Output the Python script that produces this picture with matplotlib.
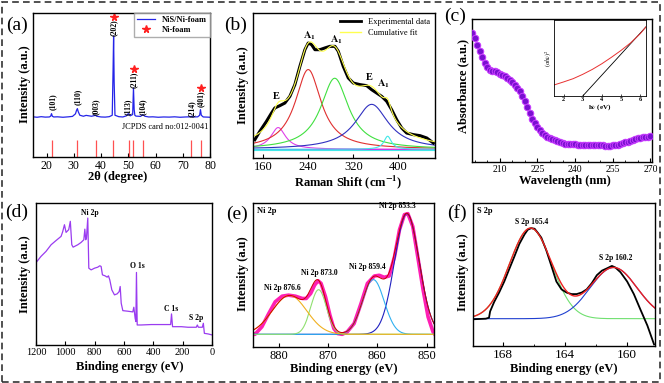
import numpy as np
import matplotlib
matplotlib.use('Agg')
import matplotlib.pyplot as plt
from matplotlib.lines import Line2D
from matplotlib.patches import Rectangle
from matplotlib.ticker import MultipleLocator

plt.rcParams['font.family'] = 'Liberation Serif'
plt.rcParams['mathtext.fontset'] = 'stix'

W, H = 664, 383

# ---- (a) XRD ----
xrd_x = [15.0, 16.5, 18.0, 19.5, 21.0, 21.5, 21.8, 22.1, 22.6, 24.0, 26.0, 28.0, 29.5,
         30.6, 31.0, 31.3, 31.6, 32.2, 33.5, 34.5, 35.5, 36.5, 37.6, 38.0, 38.4, 40.0,
         41.5, 43.0, 44.1, 44.4, 44.6, 44.8, 45.1, 46.5, 48.0, 49.3, 50.0, 50.7, 51.6,
         51.9, 52.15, 52.4, 52.8, 54.5, 55.3, 56.1, 57.5, 59.0, 61.0, 63.0, 65.0, 67.0,
         69.0, 71.0, 72.8, 73.3, 73.8, 75.5, 76.2, 76.5, 76.8, 77.5, 79.0, 80.0]
xrd_y = [27.9, 27.6, 28.0, 27.7, 27.8, 28.4, 30.1, 28.3, 27.8, 27.9, 27.6, 27.9, 28.2,
         30.0, 32.5, 33.6, 31.5, 29.0, 28.3, 28.9, 28.6, 28.3, 28.8, 28.9, 28.3, 27.8,
         27.7, 28.0, 29.0, 60.0, 84.0, 52.0, 29.0, 28.0, 27.8, 28.6, 30.1, 28.6, 29.5,
         47.9, 33.0, 29.0, 28.4, 28.2, 29.4, 28.3, 27.8, 27.9, 27.6, 27.8, 27.7, 27.9,
         27.6, 27.8, 27.9, 28.3, 27.8, 27.9, 29.0, 32.9, 29.0, 27.8, 27.7, 27.6]
ref_x = [21.9, 31.3, 38.0, 44.5, 50.4, 51.9, 55.3, 73.1, 76.8]
hkl_labels = ['(101)', '(110)', '(003)', '(202)', '(113)', '(211)', '(104)', '(214)', '(401)']
hkl_x = [22.1, 31.3, 38.1, 44.7, 49.8, 52.1, 55.5, 73.5, 76.6]
hkl_y = [38.2, 41.7, 35.2, 90.0, 34.7, 53.7, 34.7, 33.6, 40.5]
star_x = [44.7, 52.1, 76.6]
star_y = [97.0, 61.3, 48.1]

# ---- (b) Raman ----
raman_x = [145.2, 154.1, 165.9, 174.8, 180.7, 189.6, 198.5, 207.4, 216.3, 225.2, 234.1,
           240.0, 245.9, 251.9, 260.7, 269.6, 278.5, 287.4, 293.3, 302.2, 311.1, 320.0,
           331.9, 343.7, 352.6, 361.5, 370.4, 379.3, 388.1, 397.0, 405.9, 414.8, 426.7,
           438.5, 450.4, 462.2]
raman_y = [12.6, 18.4, 25.3, 31.0, 34.5, 36.1, 37.9, 42.5, 50.6, 63.2, 74.7, 79.3, 78.2,
           74.7, 74.7, 75.9, 77.0, 77.0, 73.6, 63.2, 55.2, 51.7, 50.6, 49.9, 47.1, 44.8,
           42.5, 39.1, 33.3, 26.4, 20.7, 17.2, 16.1, 15.4, 13.8, 10.3]
raman_base = 6.0
raman_centers = [186.7, 240.0, 287.0, 352.6, 381.0]
raman_heights = [15.0, 55.0, 49.0, 31.0, 9.0]
raman_hwhm = [16.0, 28.0, 30.0, 36.0, 8.0]
raman_colors = ['#e040e8', '#e03030', '#40e040', '#3030c0', '#40e8e8']
mode_labels = ['E', r'$\mathbf{A_1}$', r'$\mathbf{A_1}$', 'E', r'$\mathbf{A_1}$']
mode_x = [182.5, 241.8, 289.2, 348.4, 373.3]
mode_y = [42.5, 84.0, 81.5, 55.2, 51.3]

# ---- (c) UV-Vis ----
uv_nm = list(range(199, 271))
uv_abs = [90.0, 86.5, 82.0, 77.4, 73.2, 69.3, 66.5, 64.6, 63.8, 63.3, 62.6, 61.8, 60.9,
          59.9, 58.8, 57.6, 56.0, 54.1, 51.9, 49.4, 46.1, 42.4, 38.3, 34.0, 30.4, 27.0,
          24.3, 22.4, 20.6, 19.0, 17.8, 16.7, 15.9, 15.2, 14.5, 13.8, 13.3, 12.9, 12.7,
          12.5, 12.4, 12.3, 12.1, 11.9, 11.8, 11.7, 11.7, 11.7, 11.7, 11.7, 11.7, 11.6,
          11.6, 11.5, 11.5, 11.5, 11.6, 11.8, 12.1, 12.5, 13.1, 13.7, 14.3, 14.9, 15.5,
          16.0, 16.5, 16.9, 17.2, 17.4, 17.7, 17.9]
tauc_hv = [1.5, 2.0, 2.5, 3.0, 3.5, 4.0, 4.5, 5.0, 5.5, 6.0, 6.3]
tauc_y = [0.145, 0.185, 0.228, 0.285, 0.35, 0.425, 0.51, 0.60, 0.70, 0.82, 0.91]
tangent_hv = [3.0, 6.3]
tangent_y = [0.0, 0.91]

# ---- (d) XPS survey ----
survey_be = [1200, 1166, 1132, 1097, 1063, 1029, 1018, 1006, 995, 977, 966, 956, 947, 915,
             893, 874, 867, 861, 856, 847, 840, 824, 801, 779, 765, 756, 747, 729, 715,
             706, 697, 683, 665, 647, 633, 626, 619, 608, 574, 540, 533, 524, 519, 515,
             510, 483, 414, 346, 282, 276, 269, 209, 164, 107, 100, 93, 66, 59, 52, 27, 0]
survey_i = [58.0, 62.4, 65.9, 70.6, 73.6, 76.5, 79.8, 84.7, 79.3, 81.2, 87.1, 70.6, 68.9,
            70.6, 72.2, 74.1, 81.6, 74.1, 75.3, 89.4, 54.1, 52.9, 54.1, 54.8, 55.8, 55.3,
            49.4, 48.7, 47.8, 48.7, 45.9, 38.8, 35.3, 36.0, 37.6, 41.2, 29.4, 24.2, 23.8,
            23.3, 26.6, 18.8, 16.5, 51.1, 14.1, 14.1, 14.4, 14.4, 14.4, 21.9, 12.9, 12.9,
            12.5, 12.5, 14.1, 12.5, 12.5, 15.3, 8.2, 7.8, 7.1]
survey_labels = ['Ni 2p', 'O 1s', 'C 1s', 'S 2p']
survey_lx = [836, 510, 282, 107]
survey_ly = [93.0, 55.3, 25.4, 18.8]

# ---- (e) Ni 2p ----
ni_be = [885.1, 884.8, 883.4, 882.0, 880.7, 879.3, 878.0, 876.6, 875.2, 874.4, 873.5,
         872.7, 872.0, 871.4, 870.5, 869.6, 868.8, 868.0, 867.1, 866.1, 864.7, 863.3,
         862.0, 860.6, 859.6, 858.6, 857.6, 856.5, 855.5, 854.5, 853.8, 852.8, 851.8,
         850.7, 849.7, 848.7, 848.2]
ni_i = [8.8, 8.8, 14.0, 23.3, 31.4, 35.3, 36.0, 35.3, 33.7, 33.7, 37.2, 43.0, 46.0, 44.2,
        34.9, 22.1, 12.8, 9.3, 8.8, 10.5, 16.3, 30.2, 44.2, 49.3, 49.8, 48.4, 49.3, 62.8,
        81.4, 91.9, 92.6, 83.7, 62.8, 39.5, 20.9, 10.5, 8.1]
ni_base = 8.8
ni_centers = [854.0, 860.8, 871.9, 877.8]
ni_heights = [83.8, 38.0, 31.0, 27.0]
ni_sigmas = [2.5, 2.2, 1.6, 3.5]
ni_colors = ['#2020c0', '#30b0f0', '#90e070', '#f0b020']
ni_labels = ['Ni 2p 853.3', 'Ni 2p 859.4', 'Ni 2p 873.0', 'Ni 2p 876.6']
ni_lx = [855.9, 862.0, 871.8, 879.3]
ni_ly = [97.7, 55.8, 51.2, 40.7]

# ---- (f) S 2p ----
s_be = [169.88, 169.08, 168.87, 168.80, 168.54, 168.22, 167.89, 167.57, 167.24, 166.92,
        166.59, 166.38, 166.16, 165.94, 165.73, 165.51, 165.19, 164.86, 164.54, 164.21,
        163.89, 163.56, 163.24, 162.91, 162.59, 162.26, 161.94, 161.61, 161.29, 160.97,
        160.75, 160.42, 159.99, 159.56, 159.13, 158.69, 158.26]
s_i = [18.7, 19.1, 19.8, 24.2, 30.8, 37.4, 45.1, 53.8, 62.6, 71.4, 78.0, 81.3, 82.4, 82.0,
       79.1, 75.8, 67.0, 56.0, 45.1, 39.6, 37.4, 36.3, 36.3, 37.4, 39.6, 44.0, 49.5, 52.7,
       54.3, 56.0, 54.9, 51.6, 45.1, 36.3, 25.3, 14.3, 1.1]
s_base = 19.1
s_centers = [166.2, 160.86]
s_heights = [63.3, 35.8]
s_sigmas = [1.35, 1.5]
s_colors = ['#70e070', '#2040d0']
s_labels = ['S 2p 165.4', 'S 2p 160.2']
s_lx = [166.16, 160.75]
s_ly = [86.8, 61.5]


def box(l, t, r, b):
    return [l / W, 1 - b / H, (r - l) / W, (b - t) / H]


def lorentz(x, c, h, w):
    return h / (1 + ((x - c) / w) ** 2)


def gauss(x, c, h, s):
    return h * np.exp(-0.5 * ((x - c) / s) ** 2)


fig = plt.figure(figsize=(W / 100, H / 100), dpi=100)


def label(x, y, s, **kw):
    fig.text(x / W, 1 - y / H, s, **kw)


def style(ax, size):
    ax.tick_params(direction='in', length=3, width=0.8, labelsize=size, pad=2)
    ax.tick_params(axis='y', left=False, labelleft=False)
    for sp in ax.spines.values():
        sp.set_linewidth(1.0)
    ax.set_ylim(0, 100)


bold = dict(fontweight='bold')

# (a)
ax = fig.add_axes(box(33, 13, 210, 157))
ax.plot(xrd_x, xrd_y, color='#2424e8', lw=0.9)
ax.vlines(ref_x, 0, 12, color='#ff5050', lw=0.9)
for t, x, y in zip(hkl_labels, hkl_x, hkl_y):
    ax.text(x, y, t, rotation=90, ha='center', va='center', fontsize=5.5, **bold)
ax.plot(star_x, star_y, '*', color='#ff2020', ms=5.5, ls='none')
ax.text(79.5, 20.8, 'JCPDS card no:012-0041', ha='right', va='center', fontsize=6)
ax.set_xlim(15, 80)
ax.set_xticks([20, 30, 40, 50, 60, 70, 80])
style(ax, 8.5)
h = [Line2D([], [], color='#2424e8', lw=0.9),
     Line2D([], [], marker='*', color='#ff2020', ls='none', ms=5.5)]
ax.legend(h, ['NiS/Ni-foam', 'Ni-foam'], loc='upper right', borderaxespad=0,
          prop={'weight': 'bold', 'size': 6}, fancybox=False, edgecolor='#999999',
          borderpad=0.35, labelspacing=0.3, handlelength=2.2)
label(17, 25, '(a)', fontsize=14, ha='center', va='center')
label(25, 84, 'Intensity (a.u.)', rotation=90, ha='center', va='center', fontsize=9, **bold)
label(118, 177, '2θ (degree)', ha='center', va='center', fontsize=9, **bold)

# (b)
ax = fig.add_axes(box(253, 13, 435, 158))
xx = np.linspace(142, 465, 500)
ax.axhline(raman_base + 0.4, color='#a020f0', lw=0.8)
ax.axhline(raman_base - 0.6, color='#40e8e8', lw=0.8)
total = np.full_like(xx, raman_base)
for c, hh, w, col in zip(raman_centers, raman_heights, raman_hwhm, raman_colors):
    comp = lorentz(xx, c, hh, w)
    total += comp
    ax.plot(xx, raman_base + comp, color=col, lw=0.8)
ax.plot(raman_x, raman_y, color='black', lw=2.2)
ax.plot(xx, total, color='#ffff50', lw=0.8)
for t, x, y in zip(mode_labels, mode_x, mode_y):
    ax.text(x, y, t, ha='center', va='center', fontsize=7.5, **bold)
ax.set_xlim(142, 465)
ax.set_xticks([160, 240, 320, 400])
style(ax, 9)
h = [Line2D([], [], color='black', lw=2), Line2D([], [], color='#ffff50', lw=1)]
ax.legend(h, ['Experimental data', 'Cumulative fit'], loc='upper right', frameon=False,
          fontsize=6, borderaxespad=0.2, labelspacing=0.3, handlelength=2.5)
label(236, 25, '(b)', fontsize=14, ha='center', va='center')
label(243, 85, 'Intensity (a.u.)', rotation=90, ha='center', va='center', fontsize=9, **bold)
label(348, 182, 'Raman Shift (cm$^{\\mathbf{-1}}$)', ha='center', va='center', fontsize=9, **bold)

# (c)
ax = fig.add_axes(box(472, 19, 652, 162))
ax.scatter(uv_nm, uv_abs, s=22, color='#7a10d0', edgecolors='#c83cff', linewidths=0.7,
           zorder=3)
ax.set_xlim(199, 270.6)
ax.set_xticks([210, 225, 240, 255, 270])
ax.xaxis.set_minor_locator(MultipleLocator(5))
style(ax, 7)
ax.tick_params(which='minor', direction='in', length=1.8, width=0.6)
label(455, 16, '(c)', fontsize=14, ha='center', va='center')
label(463, 86, 'Absorbance (a.u.)', rotation=90, ha='center', va='center', fontsize=9, **bold)
label(565, 181, 'Wavelength (nm)', ha='center', va='center', fontsize=9, **bold)

ins = fig.add_axes(box(554, 20, 646, 96))
ins.plot(tangent_hv, tangent_y, color='black', lw=0.6)
ins.plot(tauc_hv, tauc_y, color='#e83030', lw=0.7)
ins.set_xlim(1.5, 6.3)
ins.set_ylim(0, 1)
ins.set_xticks([2, 3, 4, 5, 6])
ins.tick_params(direction='in', length=1.5, width=0.5, labelsize=4.5, pad=1)
ins.tick_params(axis='y', left=False, labelleft=False)
for t in ins.get_xticklabels():
    t.set_fontweight('bold')
for sp in ins.spines.values():
    sp.set_linewidth(0.6)
label(548, 58, r'$(\alpha h\nu)^2$', rotation=90, ha='center', va='center', fontsize=4.5)
label(600, 107, r'h$\nu$ (eV)', ha='center', va='center', fontsize=5, **bold)

# (d)
ax = fig.add_axes(box(36, 203, 212, 345))
ax.plot(survey_be, survey_i, color='#9a3cf0', lw=0.9)
for t, x, y in zip(survey_labels, survey_lx, survey_ly):
    ax.text(x, y, t, ha='center', va='center', fontsize=5.5, **bold)
ax.set_xlim(1200, 0)
ax.set_xticks([1200, 1000, 800, 600, 400, 200, 0])
style(ax, 7.5)
label(17, 212, '(d)', fontsize=14, ha='center', va='center')
label(25, 274, 'Intensity (a.u.)', rotation=90, ha='center', va='center', fontsize=9, **bold)
label(130, 367, 'Binding energy (eV)', ha='center', va='center', fontsize=9, **bold)

# (e)
ax = fig.add_axes(box(253, 203, 434, 347))
xx = np.linspace(848.5, 885.2, 500)
ax.plot(ni_be, ni_i, color='#ff1fb4', lw=2.6)
total = np.full_like(xx, ni_base)
for c, hh, s, col in zip(ni_centers, ni_heights, ni_sigmas, ni_colors):
    comp = gauss(xx, c, hh, s)
    total += comp
    ax.plot(xx, ni_base + comp, color=col, lw=0.8)
ax.plot(xx, total, color='#cc0000', lw=0.7)
ax.text(0.02, 0.97, 'Ni 2p', transform=ax.transAxes, ha='left', va='top', fontsize=6, **bold)
for t, x, y in zip(ni_labels, ni_lx, ni_ly):
    ax.text(x, y, t, ha='center', va='center', fontsize=5.5, **bold)
ax.set_xlim(885.2, 848.5)
ax.set_xticks([880, 870, 860, 850])
style(ax, 9)
label(237, 214, '(e)', fontsize=14, ha='center', va='center')
label(243, 274, 'Intensity (a.u)', rotation=90, ha='center', va='center', fontsize=9, **bold)
label(344, 369, 'Binding energy (eV)', ha='center', va='center', fontsize=9, **bold)

# (f)
ax = fig.add_axes(box(473, 203, 655, 346))
xx = np.linspace(158.2, 169.9, 500)
total = np.full_like(xx, s_base)
for c, hh, s, col in zip(s_centers, s_heights, s_sigmas, s_colors):
    comp = gauss(xx, c, hh, s)
    total += comp
    ax.plot(xx, s_base + comp, color=col, lw=0.8)
ax.plot(s_be, s_i, color='black', lw=1.3)
ax.plot(xx, total, color='#ee2020', lw=1.0)
ax.text(0.02, 0.97, 'S 2p', transform=ax.transAxes, ha='left', va='top', fontsize=6, **bold)
for t, x, y in zip(s_labels, s_lx, s_ly):
    ax.text(x, y, t, ha='center', va='center', fontsize=5.5, **bold)
ax.set_xlim(169.9, 158.2)
ax.set_xticks([168, 164, 160])
ax.xaxis.set_minor_locator(MultipleLocator(2))
style(ax, 9.5)
ax.tick_params(which='minor', direction='in', length=1.8, width=0.6)
label(457, 213, '(f)', fontsize=14, ha='center', va='center')
label(463, 272, 'Intensity (a.u.)', rotation=90, ha='center', va='center', fontsize=9, **bold)
label(564, 369, 'Binding energy (eV)', ha='center', va='center', fontsize=9, **bold)

# dashed frame round the whole figure
fig.patches.append(Rectangle((2 / W, 1.5 / H), 658 / W, 379.5 / H, transform=fig.transFigure,
                             fill=False, edgecolor='#333333', lw=1.2, ls=(0, (4, 2.5))))

fig.savefig('out.png', dpi=100)
